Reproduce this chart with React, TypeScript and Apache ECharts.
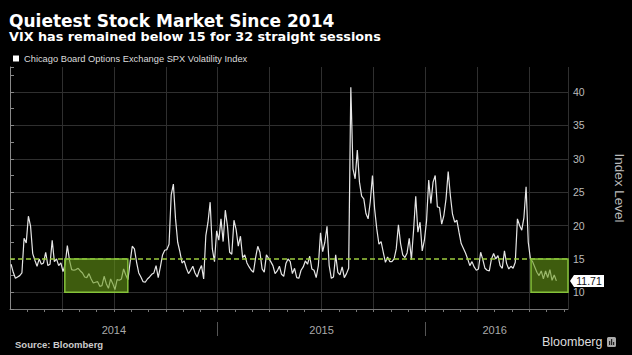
import { useEffect, useRef } from 'react';
import * as echarts from 'echarts';

const TITLE = 'Quietest Stock Market Since 2014';
const SUBTITLE = 'VIX has remained below 15 for 32 straight sessions';
const SERIES_NAME = 'Chicago Board Options Exchange SPX Volatility Index';
const SOURCE = 'Source: Bloomberg';
const BRAND = 'Bloomberg';
const AXIS_NAME = 'Index Level';

const START_YEAR = 2014;
const SLOTS_PER_MONTH = 8;

// VIX readings, 8 samples per month (Jan..Dec)
const vix2014: number[][] = [
  [14.2, 13.0, 12.1, 12.3, 12.5, 12.9, 18.1, 17.4],
  [21.4, 19.9, 15.8, 14.8, 13.9, 15.0, 14.2, 14.4],
  [16.0, 14.0, 14.2, 17.8, 14.6, 15.0, 14.0, 14.4],
  [13.1, 14.2, 17.0, 14.8, 13.4, 13.3, 13.4, 13.6],
  [13.2, 12.9, 12.3, 12.2, 12.8, 12.0, 11.4, 11.5],
  [11.6, 10.9, 11.0, 12.4, 11.3, 10.6, 12.0, 11.3],
  [10.4, 11.9, 11.8, 12.0, 13.5, 12.6, 11.9, 14.5],
  [16.9, 16.5, 14.5, 12.9, 12.3, 11.6, 11.5, 12.0],
  [12.3, 12.7, 12.9, 14.0, 12.2, 13.8, 15.6, 16.3],
  [16.4, 17.2, 24.6, 26.2, 21.0, 17.5, 16.1, 14.4],
  [14.7, 13.6, 12.8, 13.3, 13.9, 12.9, 12.3, 13.3],
  [14.0, 12.0, 18.5, 20.5, 23.5, 16.5, 14.6, 19.2],
];
const vix2015: number[][] = [
  [17.8, 21.0, 17.6, 22.3, 19.9, 16.0, 15.7, 20.8],
  [19.4, 16.9, 18.4, 15.2, 15.6, 14.4, 13.8, 13.3],
  [13.0, 15.2, 16.9, 16.0, 13.5, 13.0, 15.6, 15.1],
  [14.6, 14.0, 12.8, 13.2, 13.9, 12.7, 12.4, 14.3],
  [15.0, 14.6, 12.8, 13.6, 12.2, 12.1, 13.3, 13.8],
  [14.7, 14.2, 15.4, 13.5, 13.3, 12.2, 14.0, 18.9],
  [16.1, 17.5, 19.9, 14.0, 12.1, 12.3, 15.6, 13.0],
  [12.6, 13.8, 12.2, 12.8, 13.6, 40.7, 28.5, 27.0],
  [31.3, 26.5, 24.4, 24.0, 21.8, 21.0, 23.6, 27.5],
  [22.5, 19.5, 17.2, 17.6, 16.0, 14.5, 15.3, 14.6],
  [14.6, 15.0, 16.5, 20.1, 17.3, 15.6, 15.2, 15.9],
  [18.1, 14.9, 19.3, 24.4, 19.0, 20.5, 16.2, 17.8],
];
const vix2016: number[][] = [
  [20.7, 26.8, 23.3, 26.5, 27.5, 22.8, 22.7, 20.2],
  [21.5, 24.0, 28.1, 24.5, 21.7, 20.5, 20.8, 19.0],
  [17.3, 16.6, 15.9, 15.0, 14.0, 14.6, 13.8, 13.3],
  [13.5, 16.0, 14.9, 13.6, 13.3, 13.2, 15.0, 15.8],
  [15.0, 15.5, 14.0, 13.6, 16.2, 14.3, 13.5, 13.9],
  [13.6, 14.5, 21.0, 20.0, 19.3, 21.2, 25.8, 17.5],
  [15.0, 14.6, 13.8, 13.0, 12.5, 13.2, 12.0, 13.2],
  [12.2, 13.4, 11.8, 12.6, 11.71],
];

const yearLabels = ['2014', '2015', '2016'];
const yearLabelMonths = [6, 18, 28];
const yearBoundaryMonths = [12, 24];
const axisEndDate = '2016-09-08';
const threshold = 15;
const streakBoxes: [string, string][] = [
  ['2014-04-06', '2014-07-26'],
  ['2016-07-04', '2016-09-08'],
];
const yMin = 7.5;
const yMax = 43.75;
const yStep = 2.5;
const yLabelValues = [10, 15, 20, 25, 30, 35, 40];
const yGridValues = [10, 20, 25, 30, 35, 40];

function toMonth(date: string): number {
  const [y, m, d] = date.split('-').map(Number);
  const days = new Date(y, m, 0).getDate();
  return (y - START_YEAR) * 12 + (m - 1) + (d - 1) / days;
}

export default function App() {
  const ref = useRef<HTMLDivElement>(null);
  useEffect(() => {
    if (!ref.current) return;
    const chart = echarts.init(ref.current, undefined, { renderer: 'svg' });

    const seriesData: [number, number][] = [];
    [vix2014, vix2015, vix2016].forEach((months, yi) =>
      months.forEach((vals, mi) =>
        vals.forEach((v, k) =>
          seriesData.push([yi * 12 + mi + (k + 0.5) / SLOTS_PER_MONTH, v])
        )
      )
    );
    const lastValue = seriesData[seriesData.length - 1][1];
    const axisEnd = toMonth(axisEndDate);

    const yTicks: number[] = [];
    for (let v = yMin; v < yMax - 1e-9; v += yStep) yTicks.push(+v.toFixed(2));
    yTicks.push(yMax);
    const ySplitColors = yTicks.map((v) => (yGridValues.includes(v) ? '#2f2f2f' : 'rgba(0,0,0,0)'));

    const monthCount = Math.floor(axisEnd) + 2;
    const xSplitColors: string[] = [];
    for (let i = 0; i < monthCount; i++) xSplitColors.push(i % 3 === 0 ? '#2f2f2f' : 'rgba(0,0,0,0)');

    const green = '#86c23a';

    chart.setOption({
      animation: false,
      backgroundColor: '#000',
      title: [
        {
          text: TITLE,
          left: 9,
          top: 12,
          padding: 0,
          textStyle: { color: '#fff', fontFamily: 'DejaVu Sans', fontWeight: 'bold', fontSize: 17 },
        },
        {
          text: SUBTITLE,
          left: 9,
          top: 30,
          padding: 0,
          textStyle: { color: '#fff', fontFamily: 'DejaVu Sans', fontWeight: 'bold', fontSize: 12.8 },
        },
      ],
      legend: {
        data: [SERIES_NAME],
        left: 13,
        top: 54,
        padding: 0,
        icon: 'rect',
        itemWidth: 6,
        itemHeight: 6,
        selectedMode: false,
        textStyle: { color: '#ddd', fontSize: 9.3, fontFamily: 'Liberation Sans' },
      },
      grid: { left: 10, right: 64, top: 67, bottom: 46, containLabel: false, outerBoundsMode: 'none' },
      xAxis: [
        {
          type: 'value',
          min: 0,
          max: axisEnd,
          interval: 1,
          axisLine: { show: true, lineStyle: { color: '#777', width: 1 } },
          axisTick: { show: true, length: 3, lineStyle: { color: '#777' } },
          axisLabel: {
            show: true,
            margin: 15,
            color: '#aaa',
            fontSize: 11,
            fontFamily: 'Liberation Sans',
            showMinLabel: false,
            showMaxLabel: false,
            formatter: (v: number) => {
              const i = yearLabelMonths.indexOf(Math.round(v));
              return i >= 0 && Math.abs(v - Math.round(v)) < 1e-6 ? yearLabels[i] : '';
            },
          },
          splitLine: { show: true, lineStyle: { color: xSplitColors, width: 1 } },
        },
        {
          type: 'value',
          min: 0,
          max: axisEnd,
          interval: 12,
          position: 'bottom',
          offset: 13,
          axisLine: { show: false },
          axisTick: { show: true, length: 14, customValues: yearBoundaryMonths, lineStyle: { color: '#555' } },
          axisLabel: { show: false },
          splitLine: { show: false },
        },
      ],
      yAxis: {
        type: 'value',
        position: 'right',
        min: yMin,
        max: yMax,
        interval: yStep,
        name: AXIS_NAME,
        nameLocation: 'middle',
        nameRotate: -90,
        nameGap: 44,
        nameTextStyle: { color: '#bbb', fontSize: 13.5, fontFamily: 'Liberation Sans' },
        axisLine: { show: true, lineStyle: { color: '#888' } },
        axisTick: { show: true, length: 4, lineStyle: { color: '#888' } },
        axisLabel: {
          show: true,
          margin: 5,
          color: '#bbb',
          fontSize: 10.5,
          fontFamily: 'Liberation Sans',
          formatter: (v: number) => (yLabelValues.includes(v) ? String(v) : ''),
        },
        splitLine: { show: true, lineStyle: { color: ySplitColors, width: 1 } },
      },
      series: [
        {
          name: SERIES_NAME,
          type: 'line',
          data: seriesData,
          symbol: 'none',
          showSymbol: false,
          clip: false,
          z: 2,
          itemStyle: { color: '#fff' },
          lineStyle: { color: '#e6e6e6', width: 1.2 },
          markPoint: {
            silent: true,
            symbol: 'path://M0,6L4,0L34,0L34,12L4,12Z',
            symbolSize: [34, 12],
            symbolKeepAspect: false,
            symbolOffset: [19, 0],
            itemStyle: { color: '#fff' },
            label: {
              show: true,
              position: 'inside',
              offset: [2, 0.5],
              color: '#111',
              fontSize: 10.5,
              fontFamily: 'Liberation Sans',
              formatter: () => lastValue.toFixed(2),
            },
            data: [{ coord: [axisEnd, lastValue] }],
          },
        },
        {
          name: 'threshold',
          type: 'line',
          data: [
            [0, threshold],
            [axisEnd, threshold],
          ],
          symbol: 'none',
          showSymbol: false,
          clip: false,
          silent: true,
          z: 4,
          lineStyle: { color: '#9dcc3f', width: 1.4, type: [5, 3] },
          markArea: {
            silent: true,
            z: 5,
            itemStyle: { color: 'rgba(103,153,23,0.6)', borderColor: green, borderWidth: 1.5 },
            data: streakBoxes.map(([a, b]) => [
              { coord: [toMonth(a), 10] },
              { coord: [toMonth(b), threshold] },
            ]),
          },
        },
      ],
      graphic: [
        {
          type: 'text',
          left: 15,
          top: 339,
          style: { text: SOURCE, fill: '#ccc', font: 'bold 9.5px "Liberation Sans"' },
        },
        {
          type: 'text',
          left: 542,
          top: 335,
          style: { text: BRAND, fill: '#ddd', font: '12.5px "Liberation Sans"' },
        },
        {
          type: 'group',
          left: 607,
          top: 337,
          children: [
            { type: 'rect', shape: { x: 0, y: 0, width: 9, height: 10, r: 1.5 }, style: { fill: '#aaa' } },
            { type: 'rect', shape: { x: 2, y: 4, width: 1.2, height: 4 }, style: { fill: '#222' } },
            { type: 'rect', shape: { x: 4, y: 2, width: 1.2, height: 6 }, style: { fill: '#222' } },
            { type: 'rect', shape: { x: 6, y: 5, width: 1.2, height: 3 }, style: { fill: '#222' } },
          ],
        },
      ],
    });
    return () => chart.dispose();
  }, []);
  return (
    <div
      ref={ref}
      style={{ position: 'fixed', left: 0, top: 0, width: 632, height: 355, background: '#000' }}
    />
  );
}
